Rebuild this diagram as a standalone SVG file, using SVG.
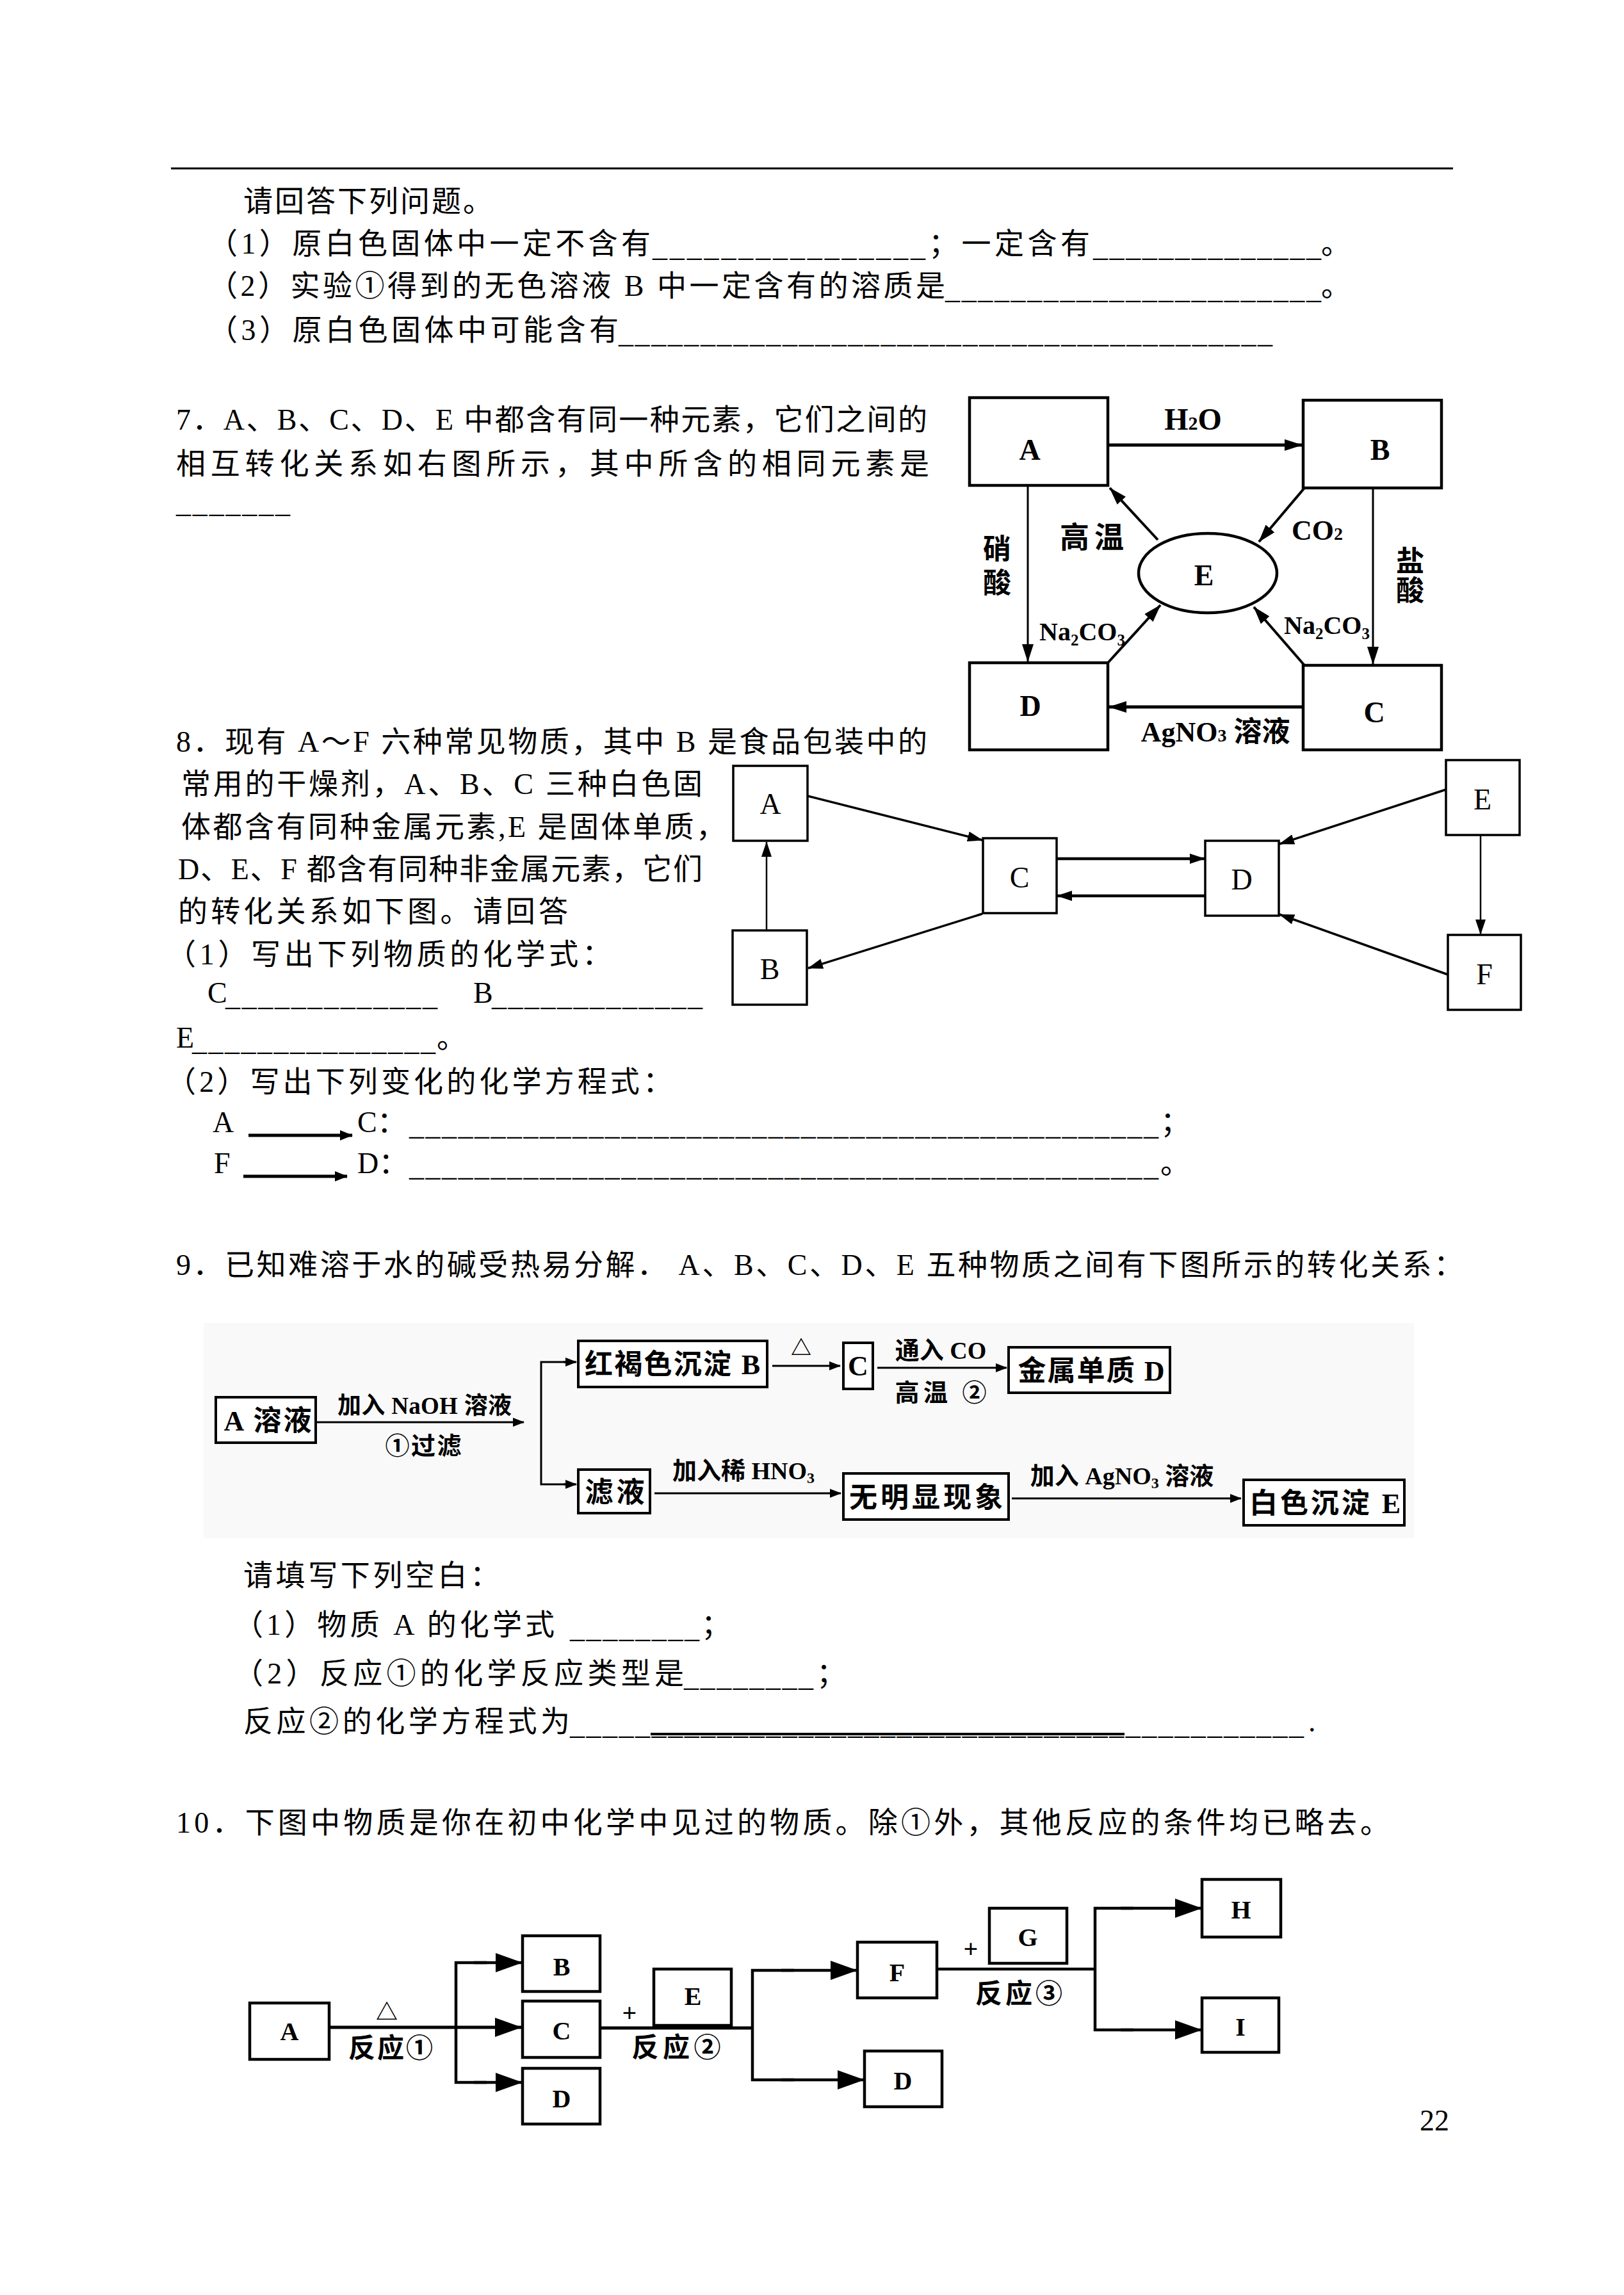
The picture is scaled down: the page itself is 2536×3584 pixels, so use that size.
<svg xmlns="http://www.w3.org/2000/svg" width="2536" height="3584" viewBox="0 0 2536 3584">
<style>
.tx{font-family:"Liberation Serif","Noto Sans CJK SC",serif;font-size:46px;fill:#000}
.lb{font-family:"Liberation Serif","Noto Sans CJK SC",serif;font-weight:bold;fill:#000}
.m{text-anchor:middle}
.bx{fill:#fff;stroke:#000;stroke-width:4.5}
.bx8{fill:#fff;stroke:#000;stroke-width:3.5}
.bx9{fill:#fff;stroke:#000;stroke-width:4}
.ln{fill:none;stroke:#000}
</style>
<defs>
<marker id="h7" markerUnits="userSpaceOnUse" markerWidth="28" markerHeight="18" refX="27" refY="9" orient="auto"><path d="M0,0 L28,9 L0,18 z"/></marker>
<marker id="h8" markerUnits="userSpaceOnUse" markerWidth="24" markerHeight="16" refX="23" refY="8" orient="auto"><path d="M0,0 L24,8 L0,16 z"/></marker>
<marker id="h9" markerUnits="userSpaceOnUse" markerWidth="18" markerHeight="14" refX="17" refY="7" orient="auto"><path d="M0,0 L18,7 L0,14 z"/></marker>
<marker id="h10" markerUnits="userSpaceOnUse" markerWidth="42" markerHeight="30" refX="41" refY="15" orient="auto"><path d="M0,0 L42,15 L0,30 z"/></marker>
<marker id="ht" markerUnits="userSpaceOnUse" markerWidth="20" markerHeight="16" refX="19" refY="8" orient="auto"><path d="M0,0 L20,8 L0,16 z"/></marker>
</defs>
<rect x="0" y="0" width="2536" height="3584" fill="#fff"/>
<line x1="267" y1="263" x2="2269" y2="263" stroke="#000" stroke-width="3"/>

<g id="q6-text">
<text class="tx" x="380" y="330" textLength="389">请回答下列问题。</text>
<text class="tx" x="325" y="396" textLength="691">（1）原白色固体中一定不含有</text>
<text class="tx" x="1019" y="400" textLength="426">________________</text>
<text class="tx" x="1450" y="396" textLength="252">；一定含有</text>
<text class="tx" x="1707" y="400" textLength="356">______________</text>
<text class="tx" x="2063" y="396">。</text>
<text class="tx" x="325" y="462" textLength="1151">（2）实验①得到的无色溶液 B 中一定含有的溶质是</text>
<text class="tx" x="1476" y="466" textLength="587">_______________________</text>
<text class="tx" x="2063" y="462">。</text>
<text class="tx" x="325" y="531" textLength="641">（3）原白色固体中可能含有</text>
<text class="tx" x="966" y="535" textLength="1021">________________________________________</text>
</g>

<g id="q7-text">
<text class="tx" x="275" y="671" textLength="1173">7．A、B、C、D、E 中都含有同一种元素，它们之间的</text>
<text class="tx" x="275" y="740" textLength="1176">相互转化关系如右图所示，其中所含的相同元素是</text>
<text class="tx" x="275" y="800" textLength="178">_______</text>
</g>

<g id="q7-diagram">
<g id="q7-connectors">
<line class="ln" x1="1730" y1="695" x2="2033" y2="695" stroke-width="5" marker-end="url(#h7)"/>
<line class="ln" x1="1605" y1="758" x2="1605" y2="1033" stroke-width="3" marker-end="url(#h7)"/>
<line class="ln" x1="2144" y1="762" x2="2144" y2="1037" stroke-width="3" marker-end="url(#h7)"/>
<line class="ln" x1="1808" y1="843" x2="1733" y2="762" stroke-width="4" marker-end="url(#h7)"/>
<line class="ln" x1="2037" y1="762" x2="1966" y2="846" stroke-width="4" marker-end="url(#h7)"/>
<line class="ln" x1="1731" y1="1034" x2="1812" y2="945" stroke-width="4" marker-end="url(#h7)"/>
<line class="ln" x1="2037" y1="1039" x2="1958" y2="948" stroke-width="4" marker-end="url(#h7)"/>
<line class="ln" x1="2035" y1="1104" x2="1732" y2="1104" stroke-width="5" marker-end="url(#h7)"/>
</g>
<g id="q7-A"><rect class="bx" x="1514" y="621" width="216" height="137"/><text class="lb m" x="1608" y="718" font-size="46">A</text></g>
<g id="q7-B"><rect class="bx" x="2035" y="625" width="216" height="137"/><text class="lb m" x="2155" y="718" font-size="46">B</text></g>
<g id="q7-D"><rect class="bx" x="1514" y="1035" width="216" height="136"/><text class="lb m" x="1609" y="1118" font-size="46">D</text></g>
<g id="q7-C"><rect class="bx" x="2035" y="1039" width="216" height="132"/><text class="lb m" x="2146" y="1128" font-size="46">C</text></g>
<g id="q7-E"><ellipse cx="1886" cy="895" rx="108" ry="62" fill="#fff" stroke="#000" stroke-width="4.5"/><text class="lb m" x="1880" y="914" font-size="46">E</text></g>
<g id="q7-labels">
<text class="lb m" x="1863" y="671" font-size="48">H<tspan font-size="30">2</tspan>O</text>
<text class="lb m" x="1705" y="855" font-size="46" textLength="100">高温</text>
<text class="lb m" x="1557" y="873" font-size="44">硝</text>
<text class="lb m" x="1557" y="926" font-size="44">酸</text>
<text class="lb m" x="2202" y="892" font-size="44">盐</text>
<text class="lb m" x="2202" y="938" font-size="44">酸</text>
<text class="lb m" x="2057" y="843" font-size="44">CO<tspan font-size="28">2</tspan></text>
<text class="lb m" x="1690" y="1000" font-size="40">Na<tspan font-size="25" dy="8">2</tspan><tspan dy="-8">CO</tspan><tspan font-size="25" dy="8">3</tspan></text>
<text class="lb m" x="2072" y="990" font-size="40">Na<tspan font-size="25" dy="8">2</tspan><tspan dy="-8">CO</tspan><tspan font-size="25" dy="8">3</tspan></text>
<text class="lb m" x="1898" y="1158" font-size="44">AgNO<tspan font-size="28">3</tspan> 溶液</text>
</g>
</g>

<g id="q8-text">
<text class="tx" x="275" y="1174" textLength="1173">8．现有 A～F 六种常见物质，其中 B 是食品包装中的</text>
<text class="tx" x="283" y="1240" textLength="814">常用的干燥剂，A、B、C 三种白色固</text>
<text class="tx" x="283" y="1307" textLength="850">体都含有同种金属元素,E 是固体单质，</text>
<text class="tx" x="278" y="1373" textLength="819">D、E、F 都含有同种非金属元素，它们</text>
<text class="tx" x="278" y="1439" textLength="609">的转化关系如下图。请回答</text>
<text class="tx" x="260" y="1506" textLength="695">（1）写出下列物质的化学式：</text>
<text class="tx" x="324" y="1566">C</text>
<text class="tx" x="352" y="1570" textLength="331">_____________</text>
<text class="tx" x="739" y="1566">B</text>
<text class="tx" x="768" y="1570" textLength="329">_____________</text>
<text class="tx" x="275" y="1636">E</text>
<text class="tx" x="300" y="1640" textLength="380">_______________</text>
<text class="tx" x="682" y="1636">。</text>
<text class="tx" x="260" y="1705" textLength="790">（2）写出下列变化的化学方程式：</text>
<text class="tx" x="332" y="1768">A</text>
<text class="tx" x="558" y="1768">C：</text>
<text class="tx" x="639" y="1772" textLength="1170">______________________________________________</text>
<text class="tx" x="1812" y="1768">；</text>
<text class="tx" x="334" y="1832">F</text>
<text class="tx" x="558" y="1832">D：</text>
<text class="tx" x="639" y="1836" textLength="1170">______________________________________________</text>
<text class="tx" x="1812" y="1832">。</text>
<line class="ln" x1="388" y1="1773" x2="550" y2="1773" stroke-width="5" marker-end="url(#ht)"/>
<line class="ln" x1="380" y1="1837" x2="542" y2="1837" stroke-width="5" marker-end="url(#ht)"/>
</g>

<g id="q8-diagram">
<g id="q8-connectors">
<line class="ln" x1="1261" y1="1243" x2="1534" y2="1312" stroke-width="3.5" marker-end="url(#h8)"/>
<line class="ln" x1="1197" y1="1453" x2="1197" y2="1315" stroke-width="2.5" marker-end="url(#h8)"/>
<line class="ln" x1="1534" y1="1427" x2="1262" y2="1512" stroke-width="3.5" marker-end="url(#h8)"/>
<line class="ln" x1="1650" y1="1341" x2="1881" y2="1341" stroke-width="4.5" marker-end="url(#h8)"/>
<line class="ln" x1="1882" y1="1399" x2="1651" y2="1399" stroke-width="4.5" marker-end="url(#h8)"/>
<line class="ln" x1="2258" y1="1233" x2="1998" y2="1318" stroke-width="3.5" marker-end="url(#h8)"/>
<line class="ln" x1="2312" y1="1304" x2="2312" y2="1459" stroke-width="2.5" marker-end="url(#h8)"/>
<line class="ln" x1="2261" y1="1522" x2="1998" y2="1428" stroke-width="3.5" marker-end="url(#h8)"/>
</g>
<g id="q8-A"><rect class="bx8" x="1145" y="1196" width="116" height="117"/><text class="tx m" x="1203" y="1271" font-size="44">A</text></g>
<g id="q8-B"><rect class="bx8" x="1144" y="1453" width="116" height="116"/><text class="tx m" x="1202" y="1529" font-size="44">B</text></g>
<g id="q8-C"><rect class="bx8" x="1535" y="1309" width="115" height="117"/><text class="tx m" x="1592" y="1386" font-size="44">C</text></g>
<g id="q8-D"><rect class="bx8" x="1882" y="1313" width="115" height="117"/><text class="tx m" x="1939" y="1389" font-size="44">D</text></g>
<g id="q8-E"><rect class="bx8" x="2258" y="1187" width="115" height="117"/><text class="tx m" x="2315" y="1264" font-size="44">E</text></g>
<g id="q8-F"><rect class="bx8" x="2261" y="1460" width="114" height="117"/><text class="tx m" x="2318" y="1537" font-size="44">F</text></g>
</g>

<g id="q9-text">
<text class="tx" x="275" y="1991" textLength="2010">9．已知难溶于水的碱受热易分解．  A、B、C、D、E 五种物质之间有下图所示的转化关系：</text>
<text class="tx" x="380" y="2476" textLength="400">请填写下列空白：</text>
<text class="tx" x="365" y="2553" textLength="501">（1）物质 A 的化学式</text>
<text class="tx" x="890" y="2557" textLength="202">________</text>
<text class="tx" x="1095" y="2553">；</text>
<text class="tx" x="365" y="2629" textLength="703">（2）反应①的化学反应类型是</text>
<text class="tx" x="1068" y="2633" textLength="202">________</text>
<text class="tx" x="1275" y="2629">；</text>
<text class="tx" x="380" y="2704" textLength="510">反应②的化学方程式为</text>
<text class="tx" x="890" y="2708" textLength="1146">_____________________________________________</text>
<line x1="1016" y1="2708" x2="1756" y2="2708" stroke="#000" stroke-width="4"/>
<text class="tx" x="2043" y="2704">.</text>
</g>

<g id="q9-diagram">
<rect x="318" y="2066" width="1890" height="336" fill="#f9f9f9"/>
<g id="q9-connectors">
<line class="ln" x1="495" y1="2221" x2="818" y2="2221" stroke-width="3" marker-end="url(#h9)"/>
<polyline class="ln" points="898,2127 845,2127 845,2318 898,2318" stroke-width="3"/>
<line class="ln" x1="880" y1="2127" x2="900" y2="2127" stroke-width="3" marker-end="url(#h9)"/>
<line class="ln" x1="880" y1="2318" x2="900" y2="2318" stroke-width="3" marker-end="url(#h9)"/>
<line class="ln" x1="1206" y1="2133" x2="1312" y2="2133" stroke-width="3" marker-end="url(#h9)"/>
<line class="ln" x1="1370" y1="2136" x2="1572" y2="2136" stroke-width="3" marker-end="url(#h9)"/>
<line class="ln" x1="1022" y1="2332" x2="1313" y2="2332" stroke-width="3" marker-end="url(#h9)"/>
<line class="ln" x1="1580" y1="2340" x2="1938" y2="2340" stroke-width="3" marker-end="url(#h9)"/>
</g>
<g id="q9-A"><rect class="bx9" x="337" y="2182" width="156" height="71"/><text class="lb m" x="418" y="2234" font-size="44" textLength="137">A 溶液</text></g>
<g id="q9-B"><rect class="bx9" x="903" y="2094" width="295" height="72"/><text class="lb m" x="1050" y="2146" font-size="44" textLength="274">红褐色沉淀 B</text></g>
<g id="q9-C"><rect class="bx9" x="1317" y="2097" width="46" height="72"/><text class="lb m" x="1340" y="2148" font-size="44">C</text></g>
<g id="q9-D"><rect class="bx9" x="1575" y="2104" width="252" height="71"/><text class="lb m" x="1704" y="2156" font-size="44" textLength="229">金属单质 D</text></g>
<g id="q9-filtrate"><rect class="bx9" x="903" y="2295" width="112" height="68"/><text class="lb m" x="960" y="2346" font-size="44" textLength="93">滤液</text></g>
<g id="q9-none"><rect class="bx9" x="1317" y="2301" width="258" height="72"/><text class="lb m" x="1446" y="2354" font-size="44" textLength="240">无明显现象</text></g>
<g id="q9-E"><rect class="bx9" x="1942" y="2311" width="251" height="71"/><text class="lb m" x="2069" y="2363" font-size="44" textLength="236">白色沉淀 E</text></g>
<g id="q9-labels">
<text class="lb m" x="663" y="2208" font-size="37" textLength="272">加入 NaOH 溶液</text>
<text class="lb m" x="661" y="2271" font-size="38" textLength="119">①过滤</text>
<text class="lb m" x="1251" y="2116" font-size="32">△</text>
<text class="lb m" x="1469" y="2122" font-size="38">通入 CO</text>
<text class="lb m" x="1469" y="2188" font-size="38" textLength="143">高温 ②</text>
<text class="lb m" x="1161" y="2310" font-size="38">加入稀 HNO<tspan font-size="24" dy="6">3</tspan></text>
<text class="lb m" x="1752" y="2318" font-size="38">加入 AgNO<tspan font-size="24" dy="6">3</tspan><tspan dy="-6"> 溶液</tspan></text>
</g>
</g>

<g id="q10-text">
<text class="tx" x="275" y="2862" textLength="1895">10．下图中物质是你在初中化学中见过的物质。除①外，其他反应的条件均已略去。</text>
</g>

<g id="q10-diagram">
<g id="q10-connectors">
<line class="ln" x1="514" y1="3166" x2="814" y2="3166" stroke-width="5" marker-end="url(#h10)"/>
<polyline class="ln" points="760,3065 712,3065 712,3252 760,3252" stroke-width="4.5"/>
<line class="ln" x1="740" y1="3065" x2="815" y2="3065" stroke-width="4.5" marker-end="url(#h10)"/>
<line class="ln" x1="740" y1="3252" x2="815" y2="3252" stroke-width="4.5" marker-end="url(#h10)"/>
<line class="ln" x1="937" y1="3167" x2="1175" y2="3167" stroke-width="5"/>
<line class="ln" x1="1021" y1="3162" x2="1142" y2="3162" stroke-width="7"/>
<polyline class="ln" points="1240,3077 1175,3077 1175,3248 1240,3248" stroke-width="4.5"/>
<line class="ln" x1="1220" y1="3077" x2="1338" y2="3077" stroke-width="4.5" marker-end="url(#h10)"/>
<line class="ln" x1="1220" y1="3248" x2="1349" y2="3248" stroke-width="4.5" marker-end="url(#h10)"/>
<line class="ln" x1="1463" y1="3075" x2="1710" y2="3075" stroke-width="4.5"/>
<polyline class="ln" points="1770,2980 1710,2980 1710,3170 1770,3170" stroke-width="4.5"/>
<line class="ln" x1="1750" y1="2980" x2="1876" y2="2980" stroke-width="4.5" marker-end="url(#h10)"/>
<line class="ln" x1="1750" y1="3170" x2="1876" y2="3170" stroke-width="4.5" marker-end="url(#h10)"/>
</g>
<g id="q10-A"><rect class="bx" x="390" y="3128" width="124" height="88"/><text class="lb m" x="452" y="3186" font-size="40">A</text></g>
<g id="q10-B"><rect class="bx" x="816" y="3023" width="121" height="87"/><text class="lb m" x="877" y="3085" font-size="40">B</text></g>
<g id="q10-C"><rect class="bx" x="816" y="3125" width="121" height="88"/><text class="lb m" x="877" y="3185" font-size="40">C</text></g>
<g id="q10-D"><rect class="bx" x="816" y="3230" width="121" height="87"/><text class="lb m" x="877" y="3291" font-size="40">D</text></g>
<g id="q10-E"><rect class="bx" x="1021" y="3075" width="121" height="88"/><text class="lb m" x="1082" y="3131" font-size="40">E</text></g>
<g id="q10-F"><rect class="bx" x="1339" y="3033" width="124" height="87"/><text class="lb m" x="1401" y="3094" font-size="40">F</text></g>
<g id="q10-D2"><rect class="bx" x="1350" y="3203" width="121" height="87"/><text class="lb m" x="1410" y="3263" font-size="40">D</text></g>
<g id="q10-G"><rect class="bx" x="1545" y="2980" width="121" height="86"/><text class="lb m" x="1605" y="3039" font-size="40">G</text></g>
<g id="q10-H"><rect class="bx" x="1877" y="2935" width="123" height="90"/><text class="lb m" x="1938" y="2996" font-size="40">H</text></g>
<g id="q10-I"><rect class="bx" x="1877" y="3120" width="120" height="85"/><text class="lb m" x="1937" y="3179" font-size="40">I</text></g>
<g id="q10-labels">
<text class="lb m" x="604" y="3154" font-size="34">△</text>
<text class="lb m" x="610" y="3213" font-size="42" textLength="132">反应①</text>
<text class="lb m" x="983" y="3157" font-size="40">+</text>
<text class="lb m" x="1056" y="3212" font-size="42" textLength="139">反应②</text>
<text class="lb m" x="1516" y="3057" font-size="40">+</text>
<text class="lb m" x="1591" y="3128" font-size="42" textLength="136">反应③</text>
</g>
</g>

<text class="tx" x="2217" y="3327" font-size="40">22</text>
</svg>
